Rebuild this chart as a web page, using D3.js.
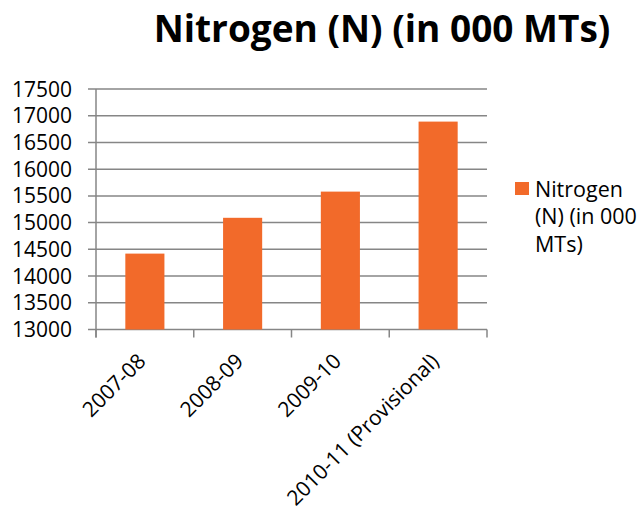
<!DOCTYPE html>
<html><head><meta charset="utf-8">
<script src="https://cdn.jsdelivr.net/npm/d3@7"></script>
<style>body{margin:0;background:#fff}svg{display:block}</style>
</head><body>
<svg id="c" width="643" height="512"></svg>
<script>
const categories = ["2007-08", "2008-09", "2009-10", "2010-11 (Provisional)"];
const values = [14420, 15090, 15580, 16890];
const yTicks = [13000, 13500, 14000, 14500, 15000, 15500, 16000, 16500, 17000, 17500];
const seriesName = "Nitrogen (N) (in 000 MTs)";
const legendLines = ["Nitrogen", "(N) (in 000", "MTs)"];

(function () {
const svg = d3.select("#c");
const font = "'Open Sans', sans-serif";
const pLeft = 96, pRight = 487, pTop = 89, pBottom = 329.5;
const x = d3.scaleBand().domain(categories).range([pLeft, pRight]).paddingInner(0.6).paddingOuter(0.3);
const y = d3.scaleLinear().domain([13000, 17500]).range([pBottom, pTop]);
const grid = "#868686";

svg.append("g").selectAll("line").data(yTicks).join("line")
  .attr("x1", pLeft - 8).attr("x2", pRight)
  .attr("y1", d => y(d)).attr("y2", d => y(d))
  .attr("stroke", grid).attr("stroke-width", 1.5);

svg.append("g").selectAll("text").data(yTicks).join("text")
  .attr("x", 72).attr("y", d => y(d)).attr("dy", "0.36em")
  .attr("text-anchor", "end").attr("font-family", font).attr("font-size", 21)
  .attr("fill", "#000").text(d => d);

svg.append("g").selectAll("rect").data(values).join("rect")
  .attr("x", (d, i) => x(categories[i])).attr("width", x.bandwidth())
  .attr("y", d => y(d)).attr("height", d => y(13000) - y(d))
  .attr("fill", "#F26A2A");

svg.append("line").attr("x1", pLeft).attr("x2", pLeft).attr("y1", pTop).attr("y2", pBottom + 8)
  .attr("stroke", grid).attr("stroke-width", 1.5);
const bnds = d3.range(categories.length + 1).map(i => pLeft + i * (pRight - pLeft) / categories.length);
svg.append("g").selectAll("line").data(bnds).join("line")
  .attr("x1", d => d).attr("x2", d => d).attr("y1", pBottom).attr("y2", pBottom + 8)
  .attr("stroke", grid).attr("stroke-width", 1.5);

svg.append("g").selectAll("text").data(categories).join("text")
  .attr("transform", d => `translate(${x(d) + x.bandwidth() / 2 + 2},${pBottom + 33}) rotate(-45)`)
  .attr("text-anchor", "end").attr("font-family", font).attr("font-size", 21)
  .attr("fill", "#000").text(d => d);

svg.append("text").attr("x", 382).attr("y", 42).attr("text-anchor", "middle")
  .attr("font-family", font).attr("font-weight", "bold").attr("font-size", 37)
  .attr("fill", "#000").text(seriesName);

svg.append("rect").attr("x", 515).attr("y", 182).attr("width", 14).attr("height", 13).attr("fill", "#F26A2A");
svg.append("g").selectAll("text").data(legendLines).join("text")
  .attr("x", 535).attr("y", (d, i) => 196.5 + i * 27.5)
  .attr("font-family", font).attr("font-size", 21.5).attr("fill", "#000").text(d => d);
})();
</script>
</body></html>
